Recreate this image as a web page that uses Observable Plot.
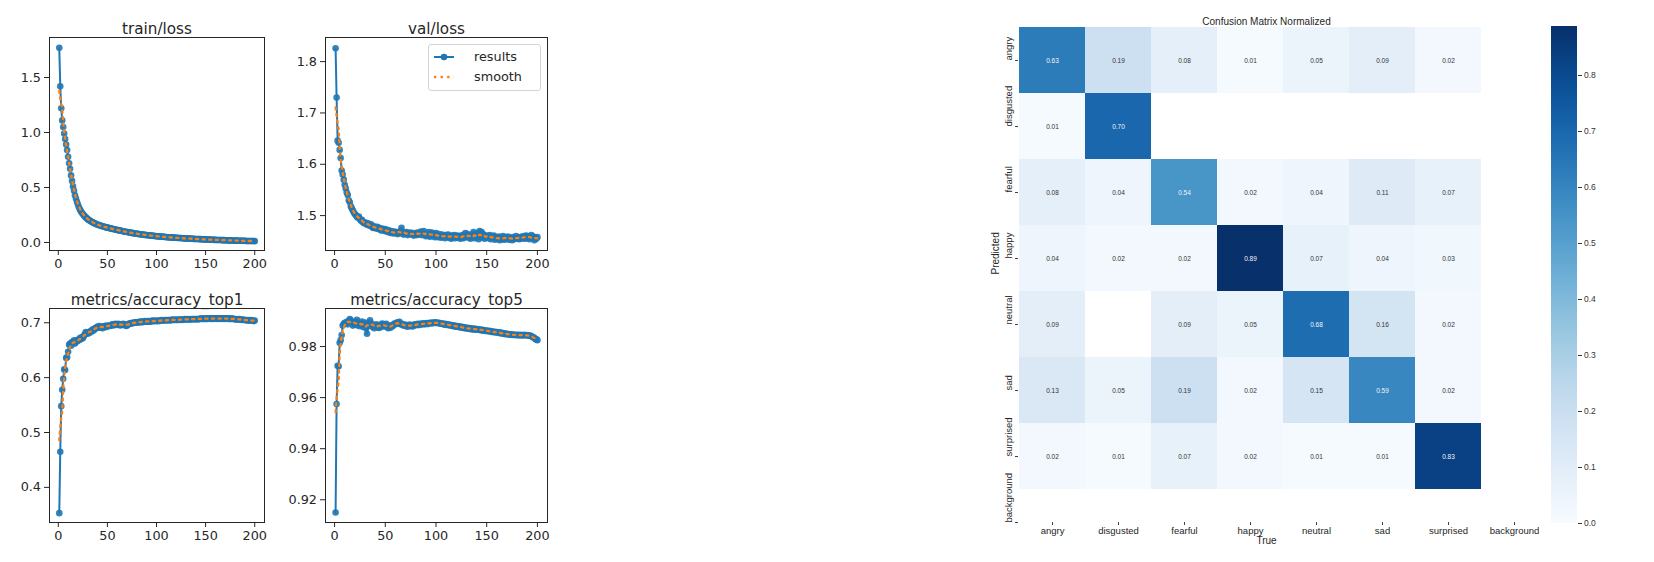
<!DOCTYPE html>
<html><head><meta charset="utf-8">
<script src="https://cdn.jsdelivr.net/npm/d3@7"></script>
<script src="https://cdn.jsdelivr.net/npm/@observablehq/plot@0.6"></script>
<style>
body{margin:0;background:#fff;}
#root{position:relative;width:1654px;height:562px;overflow:hidden;background:#fff}
#root > .abs{position:absolute}
.legend{position:absolute;left:428px;top:44px;width:111px;height:45px;border:1px solid #d4d4d4;border-radius:3px;background:rgba(255,255,255,0.85);font-family:"DejaVu Sans",sans-serif;font-size:12.8px;color:#262626}
.legend .row{position:absolute;left:0;height:20px}
.legend .row span{position:absolute;left:45px;white-space:nowrap;line-height:20px}
.legend .row svg{position:absolute;left:4px;top:0}
</style></head><body><div id="root"></div>
<script>
const epochs = d3.range(1, 201);

const trainLoss = [
1.77,1.42,1.22,1.11,1.05,0.99,0.94,0.89,0.84,0.78,
0.72,0.67,0.61,0.56,0.51,0.47,0.43,0.40,0.37,0.345,
0.32,0.30,0.285,0.27,0.258,0.247,0.237,0.228,0.22,0.212,
0.205,0.199,0.193,0.188,0.183,0.178,0.174,0.170,0.166,0.162,
0.159,0.156,0.153,0.150,0.147,0.145,0.142,0.140,0.137,0.135,
0.133,0.131,0.128,0.126,0.124,0.122,0.120,0.118,0.116,0.114,
0.112,0.110,0.108,0.106,0.104,0.102,0.100,0.098,0.097,0.095,
0.093,0.092,0.090,0.088,0.087,0.085,0.084,0.082,0.081,0.079,
0.078,0.077,0.075,0.074,0.073,0.072,0.070,0.069,0.068,0.067,
0.066,0.065,0.064,0.063,0.062,0.061,0.060,0.059,0.058,0.057,
0.056,0.055,0.055,0.054,0.053,0.052,0.051,0.051,0.050,0.049,
0.048,0.048,0.047,0.046,0.046,0.045,0.044,0.044,0.043,0.043,
0.042,0.041,0.041,0.040,0.040,0.039,0.039,0.038,0.037,0.037,
0.036,0.036,0.035,0.035,0.034,0.034,0.033,0.033,0.032,0.032,
0.031,0.031,0.031,0.030,0.030,0.029,0.029,0.028,0.028,0.028,
0.027,0.027,0.026,0.026,0.026,0.025,0.025,0.024,0.024,0.024,
0.023,0.023,0.023,0.022,0.022,0.022,0.021,0.021,0.021,0.020,
0.020,0.020,0.019,0.019,0.019,0.018,0.018,0.018,0.018,0.017,
0.017,0.017,0.016,0.016,0.016,0.016,0.015,0.015,0.015,0.015,
0.014,0.014,0.014,0.014,0.013,0.013,0.013,0.013,0.013,0.012
];

const valLoss = [
1.826,1.730,1.646,1.642,1.628,1.612,1.588,1.580,1.570,1.560,
1.553,1.545,1.540,1.530,1.526,1.518,1.514,1.510,1.506,1.503,
1.501,1.498,1.496,1.498,1.493,1.490,1.492,1.487,1.485,1.487,
1.484,1.482,1.485,1.481,1.480,1.483,1.478,1.476,1.479,1.477,
1.475,1.478,1.474,1.476,1.473,1.471,1.475,1.472,1.470,1.474,
1.471,1.468,1.472,1.469,1.466,1.470,1.467,1.465,1.469,1.466,
1.468,1.464,1.467,1.465,1.470,1.476,1.466,1.463,1.467,1.465,
1.468,1.462,1.466,1.464,1.467,1.463,1.465,1.461,1.466,1.464,
1.462,1.467,1.463,1.465,1.469,1.462,1.466,1.470,1.463,1.460,
1.465,1.461,1.468,1.459,1.463,1.467,1.460,1.464,1.458,1.466,
1.462,1.458,1.464,1.460,1.457,1.463,1.459,1.461,1.456,1.462,
1.459,1.463,1.457,1.460,1.455,1.461,1.458,1.462,1.456,1.459,
1.461,1.457,1.460,1.455,1.459,1.462,1.456,1.458,1.466,1.460,
1.464,1.457,1.461,1.455,1.463,1.459,1.468,1.456,1.462,1.458,
1.466,1.454,1.470,1.460,1.468,1.457,1.463,1.455,1.461,1.458,
1.460,1.456,1.462,1.454,1.459,1.457,1.461,1.453,1.458,1.456,
1.454,1.459,1.452,1.457,1.455,1.460,1.453,1.458,1.454,1.456,
1.459,1.453,1.457,1.455,1.452,1.458,1.454,1.456,1.460,1.455,
1.457,1.454,1.458,1.455,1.459,1.456,1.460,1.455,1.461,1.457,
1.459,1.454,1.458,1.462,1.456,1.459,1.452,1.457,1.455,1.458
];

const accTop1 = [
0.353,0.465,0.548,0.578,0.598,0.615,0.614,0.636,0.637,0.647,
0.660,0.662,0.658,0.665,0.664,0.668,0.662,0.667,0.666,0.669,
0.668,0.672,0.670,0.674,0.672,0.676,0.679,0.683,0.681,0.680,
0.683,0.682,0.685,0.684,0.688,0.686,0.689,0.691,0.690,0.693,
0.692,0.694,0.691,0.692,0.690,0.693,0.694,0.692,0.695,0.693,
0.694,0.695,0.694,0.696,0.697,0.695,0.697,0.698,0.696,0.697,
0.698,0.697,0.695,0.697,0.696,0.698,0.697,0.696,0.694,0.695,
0.697,0.698,0.699,0.698,0.700,0.699,0.700,0.701,0.700,0.701,
0.700,0.701,0.702,0.701,0.702,0.701,0.702,0.703,0.702,0.702,
0.703,0.702,0.703,0.702,0.703,0.704,0.703,0.703,0.704,0.703,
0.703,0.704,0.703,0.704,0.705,0.704,0.704,0.705,0.704,0.705,
0.704,0.705,0.705,0.704,0.705,0.706,0.705,0.705,0.706,0.705,
0.705,0.706,0.705,0.706,0.706,0.705,0.706,0.706,0.707,0.706,
0.706,0.707,0.706,0.706,0.707,0.706,0.707,0.707,0.706,0.707,
0.707,0.706,0.707,0.707,0.708,0.707,0.707,0.708,0.707,0.707,
0.708,0.707,0.708,0.708,0.707,0.708,0.708,0.707,0.708,0.708,
0.708,0.707,0.708,0.708,0.708,0.707,0.708,0.708,0.707,0.708,
0.708,0.708,0.707,0.708,0.707,0.707,0.708,0.707,0.707,0.706,
0.707,0.706,0.706,0.707,0.706,0.706,0.705,0.706,0.705,0.705,
0.705,0.704,0.705,0.704,0.704,0.705,0.704,0.704,0.703,0.704
];

const accTop5 = [
0.9150,0.9575,0.9725,0.9723,0.9815,0.9825,0.9845,0.9882,0.9888,0.9893,
0.9890,0.9897,0.9887,0.9900,0.9908,0.9903,0.9895,0.9882,0.9890,0.9896,
0.9885,0.9905,0.9893,0.9880,0.9892,0.9883,0.9898,0.9877,0.9888,0.9894,
0.9872,0.9850,0.9880,0.9893,0.9903,0.9890,0.9878,0.9884,0.9872,0.9880,
0.9887,0.9875,0.9882,0.9873,0.9885,0.9878,0.9890,0.9886,0.9879,0.9884,
0.9889,0.9876,0.9872,0.9880,0.9874,0.9883,0.9879,0.9885,0.9890,0.9887,
0.9892,0.9895,0.9889,0.9897,0.9890,0.9885,0.9888,0.9882,0.9886,0.9880,
0.9884,0.9878,0.9882,0.9886,0.9880,0.9883,0.9879,0.9884,0.9887,0.9883,
0.9886,0.9889,0.9884,0.9887,0.9890,0.9886,0.9889,0.9891,0.9887,0.9890,
0.9892,0.9888,0.9891,0.9893,0.9890,0.9894,0.9891,0.9893,0.9895,0.9892,
0.9894,0.9891,0.9893,0.9890,0.9889,0.9891,0.9888,0.9886,0.9889,0.9885,
0.9887,0.9884,0.9886,0.9882,0.9884,0.9881,0.9883,0.9879,0.9881,0.9878,
0.9880,0.9877,0.9879,0.9875,0.9877,0.9874,0.9876,0.9872,0.9874,0.9871,
0.9873,0.9870,0.9872,0.9868,0.9871,0.9869,0.9866,0.9870,0.9867,0.9869,
0.9866,0.9868,0.9865,0.9867,0.9863,0.9866,0.9862,0.9864,0.9861,0.9863,
0.9860,0.9862,0.9859,0.9861,0.9857,0.9859,0.9856,0.9858,0.9855,0.9857,
0.9854,0.9856,0.9852,0.9855,0.9851,0.9853,0.9849,0.9852,0.9848,0.9850,
0.9847,0.9849,0.9846,0.9848,0.9845,0.9847,0.9845,0.9846,0.9844,0.9846,
0.9845,0.9843,0.9846,0.9844,0.9845,0.9843,0.9846,0.9844,0.9845,0.9843,
0.9844,0.9842,0.9843,0.9840,0.9838,0.9836,0.9833,0.9830,0.9828,0.9825
];

const xTicks = [0, 50, 100, 150, 200];
const trainLossTicks = [0.0, 0.5, 1.0, 1.5];
const valLossTicks = [1.5, 1.6, 1.7, 1.8];
const top1Ticks = [0.4, 0.5, 0.6, 0.7];
const top5Ticks = [0.92, 0.94, 0.96, 0.98];

const cmClasses = ["angry","disgusted","fearful","happy","neutral","sad","surprised","background"];
// rows = Predicted, columns = True (null = blank cell)
const cmValues = [
  [0.63,0.19,0.08,0.01,0.05,0.09,0.02],
  [0.01,0.70,null,null,null,null,null],
  [0.08,0.04,0.54,0.02,0.04,0.11,0.07],
  [0.04,0.02,0.02,0.89,0.07,0.04,0.03],
  [0.09,null,0.09,0.05,0.68,0.16,0.02],
  [0.13,0.05,0.19,0.02,0.15,0.59,0.02],
  [0.02,0.01,0.07,0.02,0.01,0.01,0.83]
];
const cbTicks = [0,0.1,0.2,0.3,0.4,0.5,0.6,0.7,0.8];
const cbMax = 0.8875;

const root = document.getElementById("root");
const MPL = "'DejaVu Sans', sans-serif";
const ARIAL = "'Liberation Sans', Arial, sans-serif";

function place(el, left, top) {
  el.classList.add("abs");
  el.style.left = left + "px";
  el.style.top = top + "px";
  root.appendChild(el);
}

function panel({values, title, yDomain, yTicks, yFormat, left, top, width, height, mt, mr, mb, ml}) {
  const data = values.map((v, i) => ({epoch: epochs[i], value: v}));
  const p = Plot.plot({
    width, height,
    marginTop: mt, marginRight: mr, marginBottom: mb, marginLeft: ml,
    style: {background: "transparent", fontFamily: MPL, fontSize: "12.8px", color: "#262626", overflow: "visible"},
    x: {domain: [-8.95, 209.95], ticks: xTicks, tickSize: 5, tickPadding: 3, label: null},
    y: {domain: yDomain, ticks: yTicks, tickFormat: d3.format(yFormat), tickSize: 5, tickPadding: 3.5, label: null},
    marks: [
      Plot.line(data, {x: "epoch", y: "value", stroke: "#1f77b4", strokeWidth: 2}),
      Plot.dot(data, {x: "epoch", y: "value", r: 3.3, fill: "#1f77b4", fillOpacity: 0.9}),
      Plot.lineY(data, Plot.windowY({k: 7, anchor: "middle"}, {x: "epoch", y: "value", stroke: "#ff7f0e", strokeWidth: 2.3, strokeDasharray: "2.3,4.3"})),
      Plot.frame({stroke: "#262626", strokeWidth: 1}),
      Plot.text([title], {text: d => d, frameAnchor: "top", dy: -14.5, fontSize: 15.2, fill: "#262626"})
    ]
  });
  place(p, left, top);
}

panel({values: trainLoss, title: "train/loss", yDomain: [-0.073, 1.864], yTicks: trainLossTicks, yFormat: ".1f",
  left: 0, top: 0, width: 280, height: 280, mt: 37, mr: 16, mb: 30, ml: 49});
panel({values: valLoss, title: "val/loss", yDomain: [1.432, 1.847], yTicks: valLossTicks, yFormat: ".1f",
  left: 280, top: 0, width: 290, height: 280, mt: 37, mr: 23, mb: 30, ml: 45});
panel({values: accTop1, title: "metrics/accuracy_top1", yDomain: [0.336, 0.726], yTicks: top1Ticks, yFormat: ".1f",
  left: 0, top: 270, width: 280, height: 292, mt: 38, mr: 16, mb: 40, ml: 49});
panel({values: accTop5, title: "metrics/accuracy_top5", yDomain: [0.9111, 0.9949], yTicks: top5Ticks, yFormat: ".2f",
  left: 280, top: 270, width: 290, height: 292, mt: 38, mr: 23, mb: 40, ml: 45});

// legend for val/loss
const leg = document.createElement("div");
leg.className = "legend";
leg.innerHTML = `
<div class="row" style="top:2px;width:110px"><svg width="24" height="20"><line x1="1" y1="10" x2="21" y2="10" stroke="#1f77b4" stroke-width="2"/><circle cx="11" cy="10" r="3.3" fill="#1f77b4"/></svg><span>results</span></div>
<div class="row" style="top:22px;width:110px"><svg width="24" height="20"><line x1="1" y1="10" x2="21" y2="10" stroke="#ff7f0e" stroke-width="2.3" stroke-dasharray="2.3,4.3"/></svg><span>smooth</span></div>`;
root.appendChild(leg);

// confusion matrix
const cmData = [];
cmValues.forEach((row, r) => row.forEach((v, c) => {
  if (v != null) cmData.push({pred: cmClasses[r], truth: cmClasses[c], value: v});
}));
const cellSize = 66.2;
const cmLeft = 900, cmW = 640;
const fx0 = 1018 - cmLeft;
const cm = Plot.plot({
  width: cmW, height: 562,
  marginTop: 26, marginBottom: 40, marginLeft: fx0, marginRight: cmW - (1514 - cmLeft),
  style: {background: "transparent", fontFamily: ARIAL, fontSize: "9px", color: "#262626", overflow: "visible"},
  x: {domain: cmClasses, range: [fx0, fx0 + 8 * cellSize], padding: 0, label: null, axis: null},
  y: {domain: cmClasses, range: [26, 26 + 8 * cellSize], padding: 0, label: null, axis: null},
  color: {type: "linear", scheme: "blues", domain: [0, cbMax]},
  marks: [
    Plot.cell(cmData, {x: "truth", y: "pred", fill: "value", inset: 0}),
    Plot.text(cmData, {x: "truth", y: "pred", text: d => d.value.toFixed(2), fontSize: 6.5,
      fill: d => d.value > 0.45 ? "#f4f4f4" : "#333"}),
    Plot.axisX({anchor: "bottom", tickSize: 3, tickPadding: 2, fontSize: 9.5, label: null, stroke: "#444"}),
    Plot.axisY({anchor: "left", tickSize: 3, tickFormat: () => "", label: null, stroke: "#444"}),
    Plot.text(cmClasses, {y: d => d, text: d => d, frameAnchor: "left", dx: -9.5, rotate: -90, fontSize: 9.5, fill: "#262626"}),
    Plot.text(["Confusion Matrix Normalized"], {text: d => d, frameAnchor: "top", dy: -9, fontSize: 10, fill: "#262626"}),
    Plot.text(["True"], {text: d => d, frameAnchor: "bottom", dy: 21, fontSize: 10, fill: "#262626"}),
    Plot.text(["Predicted"], {text: d => d, frameAnchor: "left", dx: -23, rotate: -90, fontSize: 10, fill: "#262626"})
  ]
});
place(cm, cmLeft, 0);

// colorbar
const cbStep = 0.0025;
const cbStops = d3.range(0, cbMax, cbStep);
const cb = Plot.plot({
  width: 124, height: 562,
  marginTop: 26, marginBottom: 39, marginLeft: 21, marginRight: 77,
  style: {background: "transparent", fontFamily: ARIAL, fontSize: "8.5px", color: "#333", overflow: "visible"},
  x: {domain: [0, 1], axis: null},
  y: {domain: [0, cbMax], ticks: cbTicks, tickFormat: d3.format(".1f"), tickSize: 4, tickPadding: 2.5, label: null, axis: "right"},
  color: {type: "linear", scheme: "blues", domain: [0, cbMax]},
  marks: [
    Plot.rect(cbStops, {x1: 0, x2: 1, y1: d => d, y2: d => Math.min(cbMax, d + cbStep * 1.6), fill: d => d + cbStep / 2, shapeRendering: "crispEdges"})
  ]
});
place(cb, 1530, 0);
</script></body></html>
